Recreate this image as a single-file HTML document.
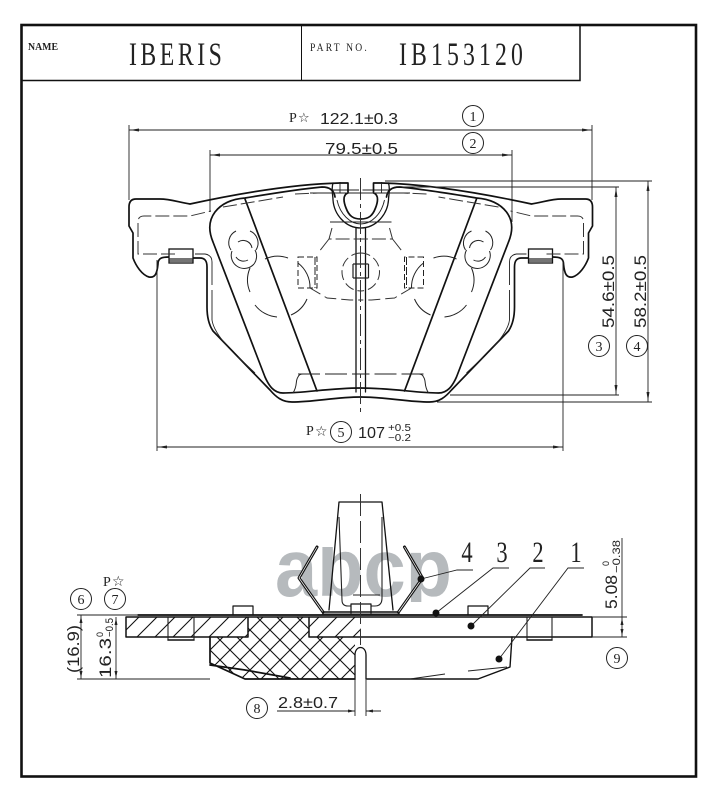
<!DOCTYPE html>
<html><head><meta charset="utf-8"><style>
html,body{margin:0;padding:0;background:#fff}
svg{display:block}
text{fill:#222}
.s{font-family:"Liberation Sans",sans-serif}
.r{font-family:"Liberation Serif",serif}
.u{font-family:"DejaVu Sans",sans-serif}
.m{fill:none;stroke:#111;stroke-width:1.7;stroke-linejoin:round;stroke-linecap:round}
.t{fill:none;stroke:#222;stroke-width:.9}
.d{fill:none;stroke:#333;stroke-width:1;stroke-dasharray:14 4}
.c{fill:#fff;stroke:#222;stroke-width:1}
.a{fill:#222}
</style></head><body>
<svg width="712" height="800" viewBox="0 0 712 800" xmlns="http://www.w3.org/2000/svg">
<defs>
<clipPath id="wm"><rect x="270" y="547" width="190" height="55"/></clipPath>
<pattern id="h1" width="18" height="18" patternUnits="userSpaceOnUse"><path d="M-2 20L20 -2M-2 2L2 -2M16 20L20 16" stroke="#111" stroke-width="1.1" fill="none"/></pattern>
<pattern id="h2" width="20" height="20" patternUnits="userSpaceOnUse"><path d="M-2 22L22 -2M-2 -2L22 22M-2 2L2 -2M18 22L22 18M18 -2L22 2M-2 18L2 22" stroke="#111" stroke-width="1.1" fill="none"/></pattern>
<g id="h">
<path class="m" d="M340 183C300 184 250 191 190 204C178 202 170 199 160 199H136C131 199 129 202 129 207V226L133 233V258C136 266 142 275 149 277C155 278 157 274 158 264C158 258 162 257 169 257"/>
<path class="m" d="M193 258H200C205 258 207 261 207 267V307C207 318 209 325 213 331L270 390C276 397 282 402 292 402C315 402 335 397 361 397"/>
<path class="m" d="M361 388C330 388 305 393 283 393C274 393 269 386 265 377L213 242C208 230 209 220 215 212C222 203 232 199 245 198C275 193 300 189 322 187C329 187 334 190 335 197"/>
<path class="m" d="M245 199L317 391"/>
<rect x="169" y="249" width="24" height="14" fill="#fff" stroke="#111" stroke-width="1.3"/>
<path class="t" style="stroke-width:1.2" d="M169 259H193M169 261H193"/>
<path class="d" d="M175 254H138V222Q138 216 144 216H190L211 211M223 207L283 197M295 194L318 193"/>
<path class="t" d="M195 254H205Q212 255 212 262V285M212 290V320C213 328 220 338 228 347M238 357L255 373"/>
<path class="t" d="M333 190L359 190"/>
<path class="m" style="stroke-width:1.3" d="M333 183C331 190 333 195 333 200C334 214 345 228 361 228"/>
<path class="m" d="M340 183H348V193C342 195 344 203 346 208C349 216 353 219 361 219"/>
<path class="t" d="M340 183V193H348M337 200C340 214 350 224 361 224"/>
<path class="t" d="M330 222H361"/>
<path class="m" style="stroke-width:1.3" d="M356 228V392"/>
<path class="d" d="M332 228L329 239H361M329 239L318 253"/>
<path class="t" style="stroke-width:1.2" d="M353 264H361M353 278H361M353 264V278"/>
<path class="d" style="stroke-dasharray:10 4" d="M361 253A19 19 0 1 0 361 291"/>
<rect class="t" style="stroke-dasharray:6 3;stroke-width:1" x="298" y="257" width="19" height="31"/>
<path class="t" style="stroke-dasharray:8 2;stroke-width:1" d="M315 257V288"/>
<path class="d" style="stroke-dasharray:12 5" d="M310 288L327 298L350 300H361"/>
<g class="t" style="stroke-width:1">
<path d="M265 259A30.5 30.5 0 0 1 288 258"/>
<path d="M298 263A30.5 30.5 0 0 1 310 288"/>
<path d="M307 299A30.5 30.5 0 0 1 291 315"/>
<path d="M277 317A30.5 30.5 0 0 1 255 305"/>
<path d="M250 292A30.5 30.5 0 0 1 250 268"/>
<path d="M236 231A13 13 0 0 0 231 250"/>
<path d="M250 231A13 13 0 0 1 256 250"/>
<path d="M232 251A13 13 0 0 0 254 264"/>
<path d="M255 250A13 13 0 0 1 254 264"/>
<path d="M238 242A9 9 0 0 1 252 248"/>
<path d="M236 257A9 9 0 0 0 248 260"/>
</g>
<path class="t" style="stroke-dasharray:22 5;stroke-width:1" d="M298 374H361"/>
<path class="t" style="stroke-width:1" d="M293 393C298 385 295 381 298 377Q299 374 303 374"/>
</g>
<g id="s1"><path class="m" style="stroke-width:3" d="M317 547L299 578L323 612"/><path d="M317 547L299 578L323 612" fill="none" stroke="#fff" stroke-width=".7"/></g>
</defs>
<rect width="712" height="800" fill="#fff"/>

<!-- watermark -->
<g clip-path="url(#wm)"><text class="s" x="275" y="596" font-size="82" font-weight="700" textLength="177" lengthAdjust="spacingAndGlyphs" style="fill:#b6babd">abcp</text></g>

<!-- frame -->
<rect x="21.5" y="25" width="674.5" height="751.5" fill="none" stroke="#111" stroke-width="2.6"/>
<path d="M21 80.5H580V25" fill="none" stroke="#111" stroke-width="1.5"/>
<path d="M301.5 25V80" stroke="#111" stroke-width="1"/>
<text class="r" x="28" y="50" font-size="10.5" textLength="30" lengthAdjust="spacingAndGlyphs" style="font-weight:700">NAME</text>
<text class="r" transform="translate(129 65) scale(.72 1)" font-size="33" textLength="129" lengthAdjust="spacing">IBERIS</text>
<text class="r" transform="translate(310 51) scale(.8 1)" font-size="12" textLength="71" lengthAdjust="spacing">PART NO.</text>
<text class="r" transform="translate(399 65) scale(.72 1)" font-size="33" textLength="172" lengthAdjust="spacing">IB153120</text>

<!-- top dims -->
<path class="t" d="M129 130H592M129 125V200M592 125V200"/>
<path class="a" d="M130 130l9 -1.5v3zM591 130l-9 -1.5v3z"/>
<text class="r" x="289" y="122" font-size="14">P</text>
<text class="u" x="298" y="122" font-size="13">☆</text>
<text class="s" x="320" y="124" font-size="16" textLength="78" lengthAdjust="spacingAndGlyphs">122.1±0.3</text>
<circle class="c" cx="473" cy="116" r="10.5"/><text class="r" x="473" y="121" font-size="14" text-anchor="middle">1</text>
<path class="t" d="M210 155H512M210 150V212M512 150V222"/>
<path class="a" d="M211 155l9 -1.5v3zM511 155l-9 -1.5v3z"/>
<text class="s" x="325" y="154" font-size="16" textLength="73" lengthAdjust="spacingAndGlyphs">79.5±0.5</text>
<circle class="c" cx="473" cy="143" r="10.5"/><text class="r" x="473" y="148" font-size="14" text-anchor="middle">2</text>

<!-- upper drawing -->
<use href="#h"/>
<use href="#h" transform="translate(721.5 0) scale(-1 1)"/>
<path class="d" style="stroke-dasharray:22 4 4 4" d="M360.5 178V414"/>
<path class="t" d="M310 193H410"/>

<!-- right dims -->
<path class="t" d="M385 181H652M402 187H619M450 395H619M437 402H652M616 187V395M648 181V402"/>
<path class="a" d="M616 188l-1.5 9h3zM616 394l-1.5 -9h3zM648 182l-1.5 9h3zM648 401l-1.5 -9h3z"/>
<text class="s" transform="translate(614 328) rotate(-90)" font-size="17" textLength="73" lengthAdjust="spacingAndGlyphs">54.6±0.5</text>
<text class="s" transform="translate(646 328) rotate(-90)" font-size="17" textLength="73" lengthAdjust="spacingAndGlyphs">58.2±0.5</text>
<circle class="c" cx="599" cy="346" r="10.5"/><text class="r" x="599" y="351" font-size="14" text-anchor="middle">3</text>
<circle class="c" cx="637" cy="346" r="10.5"/><text class="r" x="637" y="351" font-size="14" text-anchor="middle">4</text>

<!-- 107 dim -->
<path class="t" d="M157 260V451M563 260V451M157 447H563"/>
<path class="a" d="M158 447l9 -1.5v3zM562 447l-9 -1.5v3z"/>
<text class="r" x="306" y="435" font-size="14">P</text>
<text class="u" x="315" y="436" font-size="14">☆</text>
<circle class="c" cx="341" cy="432" r="10.5"/><text class="r" x="341" y="437" font-size="14" text-anchor="middle">5</text>
<text class="s" x="358" y="438" font-size="16" textLength="27" lengthAdjust="spacingAndGlyphs">107</text>
<text class="s" x="388" y="431" font-size="10" textLength="23" lengthAdjust="spacingAndGlyphs">+0.5</text>
<text class="s" x="388" y="441" font-size="10" textLength="23" lengthAdjust="spacingAndGlyphs">−0.2</text>

<!-- lower section -->
<path d="M248 617H309V637H355V679H245L210 663V637H248Z" fill="url(#h2)" stroke="none"/>
<rect x="126" y="617" width="122" height="20" fill="#fff"/>
<rect x="126" y="617" width="122" height="20" fill="url(#h1)"/>
<rect x="309" y="617" width="52" height="20" fill="url(#h1)"/>
<path class="m" d="M138 615H582"/>
<path class="m" style="stroke-width:1.5" d="M361 617H126V637H248V617M309 617V637H592V617H361"/>
<path class="m" d="M210 637V663L245 679H355M210 665L245 670L290 678"/>
<path class="t" style="stroke-width:1.1" d="M168 617V640H194V617M527 617V640H552V617"/>
<path class="m" style="stroke-width:1.5" d="M168 640H194M527 640H552"/>
<path class="m" style="stroke-width:1.2" d="M233 615V606H253V615M468 615V606H488V615"/>
<path class="m" style="stroke-width:1.4" d="M367 679H478L510 667L512 637"/>
<path class="t" d="M410 679L445 674M468 671L507 667"/>
<path class="m" style="stroke-width:1.3;fill:#fff" d="M355 679V655C355 645 366 645 366 655V679"/>
<path class="t" d="M355 679V716M366 679V716"/>

<!-- clip -->
<path class="m" style="stroke-width:1.3" d="M329 610L339 502H382L393 610"/>
<path class="t" style="stroke-width:1.1" d="M339 517L342 600Q342 606 348 606H375Q382 606 382 598L382 517"/>
<path class="t" d="M353 595H380"/>
<path class="m" style="stroke-width:1.2;fill:#fff" d="M351 613V604H371V613"/>
<use href="#s1"/>
<use href="#s1" transform="translate(721.5 0) scale(-1 1)"/>
<path class="m" style="stroke-width:1.4" d="M323 612H398"/>
<path class="t" d="M322 614H400"/>
<path class="d" style="stroke-dasharray:22 5" d="M360.5 494V645"/>

<!-- leaders -->
<text class="r" transform="translate(467 562) scale(.75 1)" font-size="30" text-anchor="middle">4</text>
<text class="r" transform="translate(502 562) scale(.75 1)" font-size="30" text-anchor="middle">3</text>
<text class="r" transform="translate(538 562) scale(.75 1)" font-size="30" text-anchor="middle">2</text>
<text class="r" transform="translate(576 562) scale(.75 1)" font-size="30" text-anchor="middle">1</text>
<path class="t" d="M421 579L457 570H473M436 613L493 568H509M471 626L530 568H545M499 659L568 568H584"/>
<circle cx="421" cy="579" r="3.5" fill="#111"/><circle cx="436" cy="613" r="3.5" fill="#111"/><circle cx="471" cy="626" r="3.5" fill="#111"/><circle cx="499" cy="659" r="3.5" fill="#111"/>

<!-- right lower dim -->
<path class="t" d="M622 538V637M592 617H627M592 637H627"/>
<path class="a" d="M622 618l-1.5 7h3zM622 636l-1.5 -7h3z"/>
<text class="s" transform="translate(617 609) rotate(-90)" font-size="17" textLength="34" lengthAdjust="spacingAndGlyphs">5.08</text>
<text class="s" transform="translate(609 566) rotate(-90)" font-size="9">0</text>
<text class="s" transform="translate(620 573) rotate(-90)" font-size="11" textLength="33" lengthAdjust="spacingAndGlyphs">−0.38</text>
<circle class="c" cx="617" cy="658" r="10.5"/><text class="r" x="617" y="663" font-size="14" text-anchor="middle">9</text>

<!-- left lower dim -->
<path class="t" d="M77 615H138M77 679H210M81 615V679M116 617V679"/>
<path class="a" d="M81 616l-1.5 7h3zM81 678l-1.5 -7h3zM116 618l-1.5 7h3zM116 678l-1.5 -7h3z"/>
<text class="s" transform="translate(79 673) rotate(-90)" font-size="17" textLength="48" lengthAdjust="spacingAndGlyphs">(16.9)</text>
<text class="s" transform="translate(111 678) rotate(-90)" font-size="17" textLength="40" lengthAdjust="spacingAndGlyphs">16.3</text>
<text class="s" transform="translate(103 637) rotate(-90)" font-size="9">0</text>
<text class="s" transform="translate(113 637) rotate(-90)" font-size="11" textLength="19" lengthAdjust="spacingAndGlyphs">−0.5</text>
<circle class="c" cx="81" cy="599" r="10.5"/><text class="r" x="81" y="604" font-size="14" text-anchor="middle">6</text>
<circle class="c" cx="115" cy="599" r="10.5"/><text class="r" x="115" y="604" font-size="14" text-anchor="middle">7</text>
<text class="r" x="103" y="586" font-size="14">P</text>
<text class="u" x="112" y="586" font-size="14">☆</text>

<!-- 2.8 dim -->
<circle class="c" cx="257" cy="708" r="10.5"/><text class="r" x="257" y="713" font-size="14" text-anchor="middle">8</text>
<text class="s" x="278" y="708" font-size="16" textLength="60" lengthAdjust="spacingAndGlyphs">2.8±0.7</text>
<path class="t" d="M277 711H355M366 711H381"/>
<path class="a" d="M355 711l-7 -1.5v3zM366 711l7 -1.5v3z"/>
</svg>
</body></html>
